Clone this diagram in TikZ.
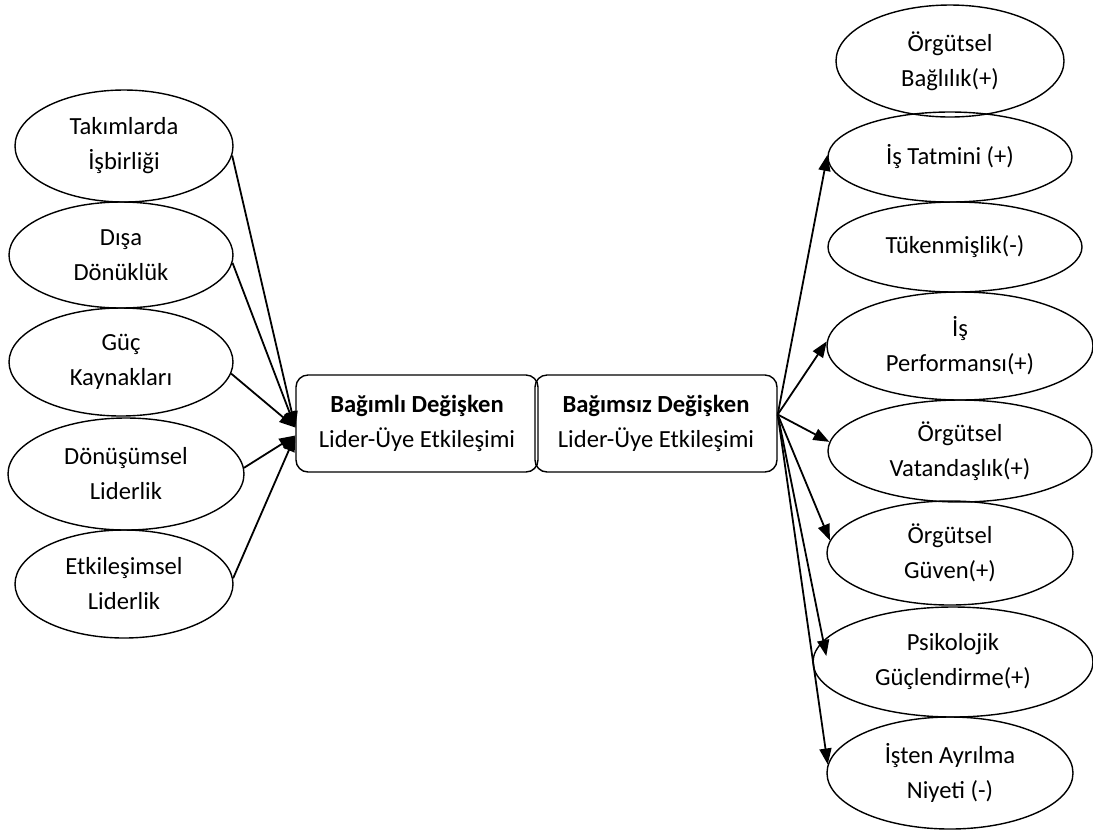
\documentclass[tikz,border=0pt]{standalone}
\usepackage{fontspec}
\setmainfont{Carlito}
\usetikzlibrary{shapes.geometric, arrows.meta}

\begin{document}
\begin{tikzpicture}[x=0.5pt, y=-0.5pt,
    oval/.style={draw, ellipse, line width=0.7pt, inner sep=0pt, align=center,
        font=\fontsize{12.3}{17.5}\selectfont},
    kutu/.style={draw, rounded corners=6pt, line width=0.7pt, minimum width=121pt,
        minimum height=48.5pt, align=center, font=\fontsize{12.3}{17.5}\selectfont},
    ok/.style={line width=0.9pt, -{Triangle[length=8pt, width=6pt]}}]

    \useasboundingbox (0,0) rectangle (1093,832);

    % left side
    \node[oval, minimum width=109pt, minimum height=56pt] (takim) at (124,146) {Takımlarda\\İşbirliği};
    \node[oval, minimum width=112pt, minimum height=53pt] (disa) at (121,255) {Dışa\\Dönüklük};
    \node[oval, minimum width=112pt, minimum height=54pt] (guc) at (121,362) {Güç\\Kaynakları};
    \node[oval, minimum width=118pt, minimum height=56pt] (donus) at (126,474) {Dönüşümsel\\Liderlik};
    \node[oval, minimum width=109pt, minimum height=54pt] (etkil) at (124,584) {Etkileşimsel\\Liderlik};

    % the two boxes
    \node[kutu] (bagimli) at (417,423.5) {\textbf{Bağımlı Değişken}\\Lider-Üye Etkileşimi};
    \node[kutu] (bagimsiz) at (656,423.5) {\textbf{Bağımsız Değişken}\\Lider-Üye Etkileşimi};

    % right side
    \node[oval, minimum width=114pt, minimum height=56pt] (bagl) at (950,61) {Örgütsel\\Bağlılık(+)};
    \node[oval, minimum width=122pt, minimum height=45pt] (tatmin) at (950,157) {İş Tatmini (+)};
    \node[oval, minimum width=127pt, minimum height=45pt] (tuken) at (955,247) {Tükenmişlik(-)};
    \node[oval, minimum width=133pt, minimum height=54pt] (perf) at (960,346) {İş\\Performansı(+)};
    \node[oval, minimum width=132pt, minimum height=51pt] (vatan) at (960,451) {Örgütsel\\Vatandaşlık(+)};
    \node[oval, minimum width=123pt, minimum height=52pt] (guven) at (950,553) {Örgütsel\\Güven(+)};
    \node[oval, minimum width=140pt, minimum height=55pt] (psiko) at (953,662) {Psikolojik\\Güçlendirme(+)};
    \node[oval, minimum width=123pt, minimum height=56pt] (ayril) at (950,773) {İşten Ayrılma\\Niyeti (-)};

    % arrows into the first box
    \draw[ok] (takim.-5) -- ([yshift=-2pt]bagimli.west);
    \draw[ok] (disa.-4) -- ([yshift=-2pt]bagimli.west);
    \draw[ok] (guc.-6) -- ([yshift=-2pt]bagimli.west);
    \draw[ok] (donus.3) -- ([yshift=-6pt]bagimli.west);
    \draw[ok] (etkil.3) -- ([yshift=-6pt]bagimli.west);

    % arrows out of the second box
    \draw[ok] ([yshift=4.5pt]bagimsiz.east) -- (tatmin.179);
    \draw[ok] ([yshift=4.5pt]bagimsiz.east) -- (perf.178);
    \draw[ok] ([yshift=4.5pt]bagimsiz.east) -- (vatan.176);
    \draw[ok] ([yshift=4.5pt]bagimsiz.east) -- (guven.174);
    \draw[ok] ([yshift=4.5pt]bagimsiz.east) -- ([xshift=7pt, yshift=3pt]psiko.west);
    \draw[ok] ([yshift=4.5pt]bagimsiz.east) -- (ayril.176);

\end{tikzpicture}
\end{document}
